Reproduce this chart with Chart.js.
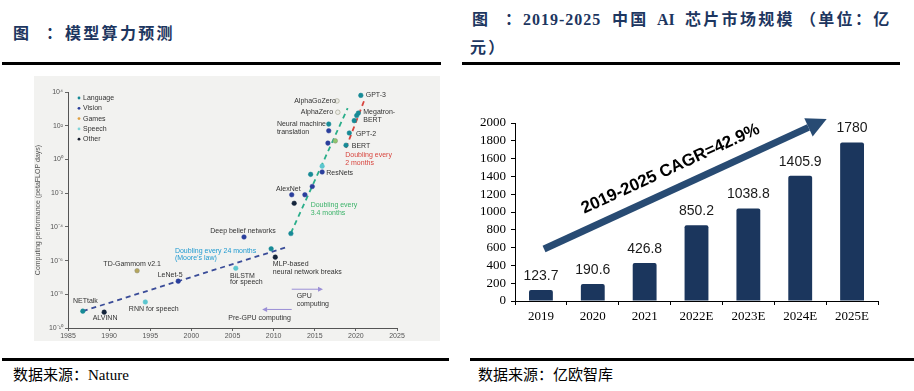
<!DOCTYPE html>
<html>
<head>
<meta charset="utf-8">
<script src="https://cdn.jsdelivr.net/npm/chart.js@4.4.1/dist/chart.umd.min.js"></script>
<style>
body { margin: 0; background: #fff; width: 914px; height: 391px; overflow: hidden; position: relative;
       font-family: "Liberation Serif", "Noto Sans CJK SC", serif; }
.t { position: absolute; font-weight: 700; color: #1d3660; font-size: 16px; white-space: nowrap; line-height: 16px; }
.cjk { letter-spacing: 2.3px; }
.rule { position: absolute; height: 3px; background: #000; }
.src { position: absolute; font-size: 15px; color: #000; white-space: nowrap; line-height: 15px; }
canvas { position: absolute; }
#computeChart { left: 34px; top: 76px; background: #f2f2f0; }
#marketChart { left: 462px; top: 100px; }
</style>
</head>
<body>

<!-- titles -->
<div class="t" style="left:13px;top:26px;">图</div>
<div class="t" style="left:46px;top:26px;">：</div>
<div class="t cjk" style="left:65px;top:26px;">模型算力预测</div>
<div class="rule" style="left:2px;top:62px;width:439px;"></div>

<div class="t" style="left:472px;top:12px;">图</div>
<div class="t" style="left:505px;top:12px;">：</div>
<div class="t" style="left:523px;top:12px;letter-spacing:1px;">2019-2025</div>
<div class="t cjk" style="left:612px;top:12px;">中国</div>
<div class="t" style="left:657px;top:12px;">AI</div>
<div class="t cjk" style="left:685px;top:12px;">芯片市场规模</div>
<div class="t cjk" style="left:800px;top:12px;">（单位：亿</div>
<div class="t cjk" style="left:470px;top:40px;">元）</div>
<div class="rule" style="left:462px;top:62px;width:438px;"></div>

<canvas id="computeChart" width="406" height="265"></canvas>
<canvas id="marketChart" width="452" height="235"></canvas>

<!-- sources -->
<div class="rule" style="left:2px;top:358px;width:447px;"></div>
<div class="rule" style="left:470px;top:358px;width:444px;"></div>
<div class="src" style="left:13px;top:368px;">数据来源：Nature</div>
<div class="src" style="left:478px;top:368px;">数据来源：亿欧智库</div>

<script>
// ===================================
// Data: model compute (left)
// ===================================
const languageYears  = [1986.8, 2009.7, 2012.1, 2014.5, 2016.7, 2018.8, 2019.2, 2019.8, 2020.1, 2020.3, 2020.6];
const languageValues = [1e-9, 5e-6, 4e-5, 0.13, 125, 7, 37, 200, 400, 560, 6300];
const visionYears    = [1998.4, 2006.4, 2012.2, 2013.8, 2014.7, 2015.9, 2016.6, 2016.7];
const visionValues   = [6e-8, 2.5e-5, 8e-3, 8e-3, 0.025, 0.18, 9.3, 50];
const gamesYears     = [1993.4, 2017.5, 2017.8, 2017.7];
const gamesValues    = [2.5e-7, 12.6, 630, 2950];
const speechYears    = [1994.4, 2005.4, 2015.9];
const speechValues   = [3.5e-9, 3.5e-7, 0.4];
const otherYears     = [1989.4, 2010.2, 2012.5];
const otherValues    = [8.7e-10, 1.6e-6, 2.5e-3];

const mooreYears  = [1986.8, 2011.6];
const mooreValues = [1e-9, 6.3e-6];
const fastYears   = [2012.1, 2019.0];
const fastValues  = [4.3e-5, 1100];
const llmYears    = [2018.8, 2021.0];
const llmValues   = [4.8, 3000];

const yearTicks = [1985, 1990, 1995, 2000, 2005, 2010, 2015, 2020, 2025];
const powerTicks = [-10, -8, -6, -4, -2, 0, 2, 4];

// ===================================
// Data: China AI chip market (right)
// ===================================
const marketYears = ['2019', '2020', '2021', '2022E', '2023E', '2024E', '2025E'];
const marketSize  = [123.7, 190.6, 426.8, 850.2, 1038.8, 1405.9, 1780];
const marketTicks = [0, 200, 400, 600, 800, 1000, 1200, 1400, 1600, 1800, 2000];

function toPoints(xs, ys) {
    return xs.map((x, i) => ({ x: x, y: ys[i] }));
}

const sup = { '-': '⁻', '0': '⁰', '1': '¹', '2': '²', '4': '⁴', '6': '⁶', '8': '⁸' };
function powLabel(e) {
    return '10' + String(e).split('').map(c => sup[c]).join('');
}

// text notes placed in data coordinates
const noteLabels = [
    { text: 'NETtalk', year: 1985.6, value: 4e-9 },
    { text: 'ALVINN', year: 1988.0, value: 4e-10 },
    { text: 'RNN for speech', year: 1992.4, value: 1.26e-9 },
    { text: 'TD-Gammom v2.1', year: 1989.3, value: 6.3e-7 },
    { text: 'LeNet-5', year: 1995.9, value: 1.4e-7 },
    { text: 'BiLSTM', year: 2004.7, value: 1.26e-7 },
    { text: 'for speech', year: 2004.7, value: 5e-8 },
    { text: 'Deep belief networks', year: 2002.3, value: 5.6e-5 },
    { text: 'Doubling every 24 months', year: 1998.0, value: 3.5e-6, color: '#1f9ad0' },
    { text: '(Moore\u2019s law)', year: 1998.0, value: 1.4e-6, color: '#1f9ad0' },
    { text: 'MLP-based', year: 2009.9, value: 6.3e-7 },
    { text: 'neural network breaks', year: 2009.9, value: 2e-7 },
    { text: 'GPU', year: 2012.8, value: 8e-9 },
    { text: 'computing', year: 2012.8, value: 2.5e-9 },
    { text: 'Pre-GPU computing', year: 2012.1, value: 4e-10, align: 'right' },
    { text: 'Doubling every', year: 2014.5, value: 2e-3, color: '#3cb36a' },
    { text: '3.4 months', year: 2014.5, value: 6.3e-4, color: '#3cb36a' },
    { text: 'AlexNet', year: 2010.3, value: 0.018 },
    { text: 'ResNets', year: 2016.4, value: 0.16 },
    { text: 'Neural machine', year: 2010.4, value: 126 },
    { text: 'translation', year: 2010.4, value: 40 },
    { text: 'AlphaZero', year: 2013.3, value: 630 },
    { text: 'AlphaGoZero', year: 2012.5, value: 2800 },
    { text: 'GPT-3', year: 2021.2, value: 6300 },
    { text: 'Megatron-', year: 2020.9, value: 630 },
    { text: 'BERT', year: 2020.9, value: 224 },
    { text: 'GPT-2', year: 2020.0, value: 32 },
    { text: 'BERT', year: 2019.5, value: 6.3 },
    { text: 'Doubling every', year: 2018.7, value: 1.8, color: '#d8453e' },
    { text: '2 months', year: 2018.7, value: 0.63, color: '#d8453e' }
];

const legendItems = [
    ['Language', '#178a96'],
    ['Vision', '#2a3f9c'],
    ['Games', '#e0a040'],
    ['Speech', '#7fd3d8'],
    ['Other', '#1a2030']
];

function drawArrow(ctx, x1, y1, x2, y2, head, halfW) {
    const ang = Math.atan2(y2 - y1, x2 - x1);
    const bx = x2 - head * Math.cos(ang), by = y2 - head * Math.sin(ang);
    ctx.beginPath();
    ctx.moveTo(x1, y1);
    ctx.lineTo(bx, by);
    ctx.stroke();
    ctx.beginPath();
    ctx.moveTo(x2, y2);
    ctx.lineTo(bx + halfW * Math.sin(ang), by - halfW * Math.cos(ang));
    ctx.lineTo(bx - halfW * Math.sin(ang), by + halfW * Math.cos(ang));
    ctx.closePath();
    ctx.fill();
}

const leftDecor = {
    id: 'leftDecor',
    afterDatasetsDraw(chart) {
        const { ctx, chartArea } = chart;
        const x = chart.scales.x, y = chart.scales.y;
        ctx.save();
        ctx.font = '7px "Liberation Sans", Arial, sans-serif';
        ctx.textBaseline = 'middle';
        noteLabels.forEach(n => {
            ctx.fillStyle = n.color || '#333';
            ctx.textAlign = n.align || 'left';
            ctx.fillText(n.text, x.getPixelForValue(n.year), y.getPixelForValue(n.value));
        });

        // GPU / pre-GPU arrows
        ctx.strokeStyle = '#9b8fd6';
        ctx.fillStyle = '#9b8fd6';
        ctx.lineWidth = 1;
        drawArrow(ctx, x.getPixelForValue(2012.2), y.getPixelForValue(2e-8),
                  x.getPixelForValue(2016.0), y.getPixelForValue(2e-8), 5, 2.5);
        drawArrow(ctx, x.getPixelForValue(2012.2), y.getPixelForValue(1.26e-9),
                  x.getPixelForValue(2008.6), y.getPixelForValue(1.26e-9), 5, 2.5);

        // legend
        ctx.textAlign = 'left';
        legendItems.forEach((item, i) => {
            const ly = chartArea.top + 6 + i * 10.3;
            ctx.fillStyle = item[1];
            ctx.beginPath();
            ctx.arc(chartArea.left + 11, ly, 1.4, 0, Math.PI * 2);
            ctx.fill();
            ctx.fillStyle = '#333';
            ctx.fillText(item[0], chartArea.left + 15, ly);
        });
        ctx.restore();
    }
};

function pointSet(xs, ys, color, border) {
    return {
        type: 'scatter',
        data: toPoints(xs, ys),
        backgroundColor: color,
        borderColor: border || color,
        borderWidth: 0.5,
        pointRadius: 2.3
    };
}

function trendSet(xs, ys, color) {
    return {
        type: 'line',
        data: toPoints(xs, ys),
        borderColor: color,
        borderWidth: 1.8,
        borderDash: [5, 4],
        pointRadius: 0,
        fill: false
    };
}

const tickFont = { family: '"Liberation Sans", Arial, sans-serif', size: 7 };

new Chart(document.getElementById('computeChart'), {
    type: 'scatter',
    data: {
        datasets: [
            pointSet(languageYears, languageValues, '#178a96'),
            pointSet(visionYears, visionValues, '#2a3f9c'),
            {
                ...pointSet(gamesYears, gamesValues, '#b5a65c', '#8a8a74'),
                pointBackgroundColor: ['#b5a65c', '#8ec86e', '#ecece6', '#ecece6']
            },
            pointSet(speechYears, speechValues, '#5cc6cf'),
            pointSet(otherYears, otherValues, '#14243a'),
            trendSet(mooreYears, mooreValues, '#3a4c98'),
            trendSet(fastYears, fastValues, '#2aae8a'),
            trendSet(llmYears, llmValues, '#d8453e')
        ]
    },
    options: {
        responsive: false,
        animation: false,
        devicePixelRatio: 1,
        layout: { padding: { left: 0, right: 43, top: 16, bottom: 0 } },
        plugins: { legend: { display: false }, tooltip: { enabled: false } },
        scales: {
            x: {
                type: 'linear',
                min: 1985,
                max: 2025,
                afterBuildTicks: s => { s.ticks = yearTicks.map(v => ({ value: v })); },
                ticks: { font: tickFont, color: '#555', padding: 1, autoSkip: false,
                         callback: v => String(v), maxRotation: 0 },
                grid: { drawOnChartArea: false, tickLength: 3, color: '#666' },
                border: { color: '#555', width: 1 },
                afterFit: s => { s.height = 13; }
            },
            y: {
                type: 'logarithmic',
                min: 1e-10,
                max: 1e4,
                afterBuildTicks: s => { s.ticks = powerTicks.map(e => ({ value: Math.pow(10, e) })); },
                ticks: { font: tickFont, color: '#555', padding: 2, autoSkip: false,
                         callback: v => powLabel(Math.round(Math.log10(v))) },
                grid: { drawOnChartArea: false, tickLength: 3, color: '#666' },
                border: { color: '#555', width: 1 },
                title: { display: true, text: 'Computing performance (petaFLOP days)',
                         font: { family: '"Liberation Sans", Arial, sans-serif', size: 7 },
                         color: '#555', padding: 0 },
                afterFit: s => { s.width = 34; }
            }
        }
    },
    plugins: [leftDecor]
});

// ===================================
// Right chart
// ===================================
const rightDecor = {
    id: 'rightDecor',
    afterDatasetsDraw(chart) {
        const { ctx } = chart;
        const x = chart.scales.x, y = chart.scales.y;
        const bars = chart.getDatasetMeta(0).data;
        ctx.save();
        ctx.font = '14px "Liberation Sans", Arial, sans-serif';
        ctx.fillStyle = '#1a1a1a';
        ctx.textAlign = 'center';
        ctx.textBaseline = 'middle';
        bars.forEach((bar, i) => {
            ctx.fillText(String(marketSize[i]), bar.x, bar.y - 14);
        });

        // CAGR arrow
        const x1 = x.getPixelForValue(0.06), y1 = y.getPixelForValue(584);
        const x2 = x.getPixelForValue(5.51), y2 = y.getPixelForValue(2045);
        ctx.strokeStyle = '#284b73';
        ctx.fillStyle = '#284b73';
        ctx.lineWidth = 7;
        drawArrow(ctx, x1, y1, x2, y2, 20, 10);

        const ang = Math.atan2(y2 - y1, x2 - x1);
        ctx.translate(x.getPixelForValue(2.5), y.getPixelForValue(1483));
        ctx.rotate(ang);
        ctx.fillStyle = '#000';
        ctx.font = 'bold 17px "Liberation Sans", Arial, sans-serif';
        ctx.fillText('2019-2025 CAGR=42.9%', 0, 0);
        ctx.restore();
    }
};

const serifFont = { family: '"Liberation Serif", "Times New Roman", serif', size: 13 };

new Chart(document.getElementById('marketChart'), {
    type: 'bar',
    data: {
        labels: marketYears,
        datasets: [{
            data: marketSize,
            backgroundColor: '#1b365d',
            borderRadius: 2,
            borderSkipped: 'bottom',
            barPercentage: 0.46,
            categoryPercentage: 1
        }]
    },
    options: {
        responsive: false,
        animation: false,
        devicePixelRatio: 1,
        layout: { padding: { left: 0, right: 36, top: 23, bottom: 0 } },
        plugins: { legend: { display: false }, tooltip: { enabled: false } },
        scales: {
            x: {
                grid: { drawOnChartArea: false, offset: true, tickLength: 4, color: '#000' },
                border: { color: '#000', width: 1 },
                ticks: { font: serifFont, color: '#000', padding: 4, autoSkip: false },
                afterFit: s => { s.height = 34; }
            },
            y: {
                min: 0,
                max: 2000,
                afterBuildTicks: s => { s.ticks = marketTicks.map(v => ({ value: v })); },
                ticks: { font: serifFont, color: '#000', padding: 5, autoSkip: false,
                         callback: v => String(v) },
                grid: { drawOnChartArea: false, tickLength: 4, color: '#000' },
                border: { color: '#000', width: 1 },
                afterFit: s => { s.width = 53; }
            }
        }
    },
    plugins: [rightDecor]
});
</script>
</body>
</html>
